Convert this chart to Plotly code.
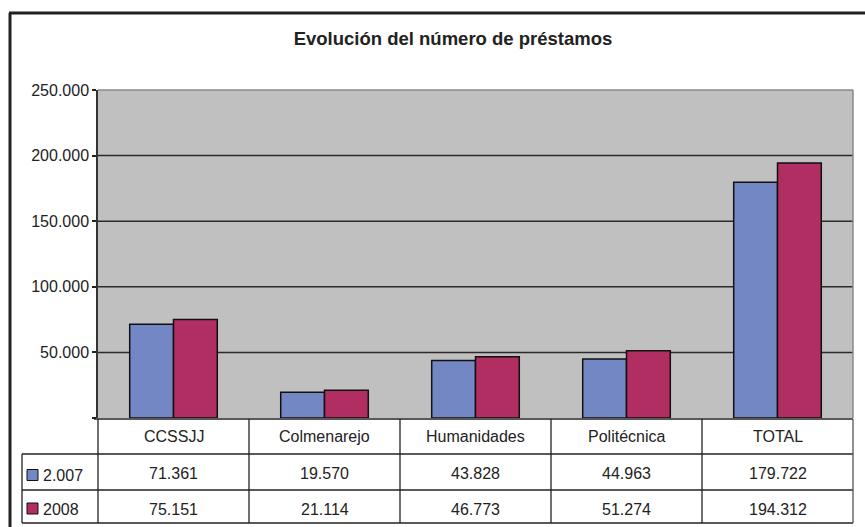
import plotly.graph_objects as go

# ---- data ----
categories = ["CCSSJJ", "Colmenarejo", "Humanidades", "Politécnica", "TOTAL"]
series_names = ["2.007", "2008"]
values_2007 = [71361, 19570, 43828, 44963, 179722]
values_2008 = [75151, 21114, 46773, 51274, 194312]
tick_values = [0, 50000, 100000, 150000, 200000, 250000]
grid_values = [50000, 100000, 150000, 200000]
title_text = "Evolución del número de préstamos"

# ---- styles ----
COL_2007 = "#7387C5"
COL_2008 = "#B02E62"
FONT = "Liberation Sans, Arial, sans-serif"
TXT = "#222222"
LINE = "#222222"


def fmt(v):
    return f"{v:,}".replace(",", ".")


fig = go.Figure()
for name, vals, col in [(series_names[0], values_2007, COL_2007),
                        (series_names[1], values_2008, COL_2008)]:
    fig.add_trace(go.Bar(
        x=categories, y=vals, name=name,
        marker=dict(color=col, line=dict(color="#111111", width=1.5)),
        showlegend=False, hoverinfo="x+y+name",
    ))

W, H = 865, 527
L, R, T, B = 98, 12, 90, 109
plot_w = W - L - R
plot_h = H - T - B


def py(ypx):
    return (H - B - ypx) / plot_h


def px(xpx):
    return (xpx - L) / plot_w


shapes = []
# grid lines (data coordinates)
for g in grid_values:
    shapes.append(dict(type="line", xref="x domain", x0=0, x1=1, yref="y", y0=g, y1=g,
                       line=dict(color="#2a2a2a", width=1.5), layer="below"))
# plot-area border (top/right gray)
shapes.append(dict(type="line", xref="x domain", x0=0, x1=1, yref="y domain", y0=1, y1=1,
                   line=dict(color="#8a8a8a", width=1.5), layer="above"))
shapes.append(dict(type="line", xref="x domain", x0=1, x1=1, yref="y domain", y0=0, y1=1,
                   line=dict(color="#8a8a8a", width=1.5), layer="above"))

# ---- data table ----
y_head_top = py(419)
y_r1_top = py(454)
y_r2_top = py(490)
y_bottom = py(523)
x_leg_left = px(22)
n = len(categories)
# horizontal lines
shapes.append(dict(type="line", xref="paper", yref="paper", x0=px(94), x1=1, y0=y_head_top, y1=y_head_top,
                   line=dict(color=LINE, width=1.5)))
for yy in [y_r1_top, y_r2_top, y_bottom]:
    shapes.append(dict(type="line", xref="paper", yref="paper", x0=x_leg_left, x1=1, y0=yy, y1=yy,
                       line=dict(color=LINE, width=1.3)))
# vertical lines
for k in range(n + 1):
    shapes.append(dict(type="line", xref="paper", yref="paper", x0=k / n, x1=k / n, y0=y_head_top, y1=y_bottom,
                       line=dict(color=LINE if k < n else "#555555", width=1.3)))
shapes.append(dict(type="line", xref="paper", yref="paper", x0=x_leg_left, x1=x_leg_left, y0=y_r1_top, y1=y_bottom,
                   line=dict(color=LINE, width=1.3)))
# legend keys
for col, yc in [(COL_2007, 475), (COL_2008, 508.5)]:
    shapes.append(dict(type="rect", xref="paper", yref="paper", x0=px(27), x1=px(38),
                       y0=py(yc + 5.5), y1=py(yc - 5.5),
                       fillcolor=col, line=dict(color="#111111", width=1)))
# outer chart border
shapes.append(dict(type="line", xref="paper", yref="paper", x0=px(10), x1=px(10), y0=py(H + 2), y1=py(13),
                   line=dict(color="#222222", width=3)))
shapes.append(dict(type="line", xref="paper", yref="paper", x0=px(9), x1=px(W + 2), y0=py(13), y1=py(13),
                   line=dict(color="#222222", width=3)))

annotations = []
tf = dict(family=FONT, size=16, color=TXT)
for i, c in enumerate(categories):
    annotations.append(dict(x=c, xref="x", y=py(436.5), yref="paper", text=c, showarrow=False,
                            font=tf, xanchor="center", yanchor="middle"))
    annotations.append(dict(x=c, xref="x", y=py(473.5), yref="paper", text=fmt(values_2007[i]),
                            showarrow=False, font=tf, xanchor="center", yanchor="middle"))
    annotations.append(dict(x=c, xref="x", y=py(509.5), yref="paper", text=fmt(values_2008[i]),
                            showarrow=False, font=tf, xanchor="center", yanchor="middle"))
for name, yc in [(series_names[0], 475), (series_names[1], 509)]:
    annotations.append(dict(x=px(41), xref="paper", y=py(yc), yref="paper", text=name, showarrow=False,
                            font=tf, xanchor="left", yanchor="middle"))

fig.update_layout(
    width=W, height=H,
    margin=dict(l=L, r=R, t=T, b=B, pad=0),
    paper_bgcolor="white",
    plot_bgcolor="#C0C0C0",
    barmode="group", bargap=0.42, bargroupgap=0,
    title=dict(text=f"<b>{title_text}</b>", x=453 / W, xanchor="center",
               y=1 - 39 / H, yanchor="middle",
               font=dict(family=FONT, size=18.5, color=TXT)),
    xaxis=dict(range=[-0.5, n - 0.5], showticklabels=False, ticks="", showgrid=False,
               zeroline=False, showline=False, fixedrange=True),
    yaxis=dict(range=[0, 250000], tickmode="array", tickvals=tick_values,
               ticktext=["" if v == 0 else fmt(v) for v in tick_values],
               ticks="outside", ticklen=4, tickwidth=1.5, tickcolor="#222222",
               tickfont=dict(family=FONT, size=16, color=TXT),
               showgrid=False, zeroline=False, showline=True, linecolor="#333333", linewidth=1.5,
               fixedrange=True),
    shapes=shapes,
    annotations=annotations,
    showlegend=False,
)

fig.write_html("out.html", config={"displayModeBar": False},
               post_script="document.body.style.margin='0';document.body.style.overflow='hidden';")
